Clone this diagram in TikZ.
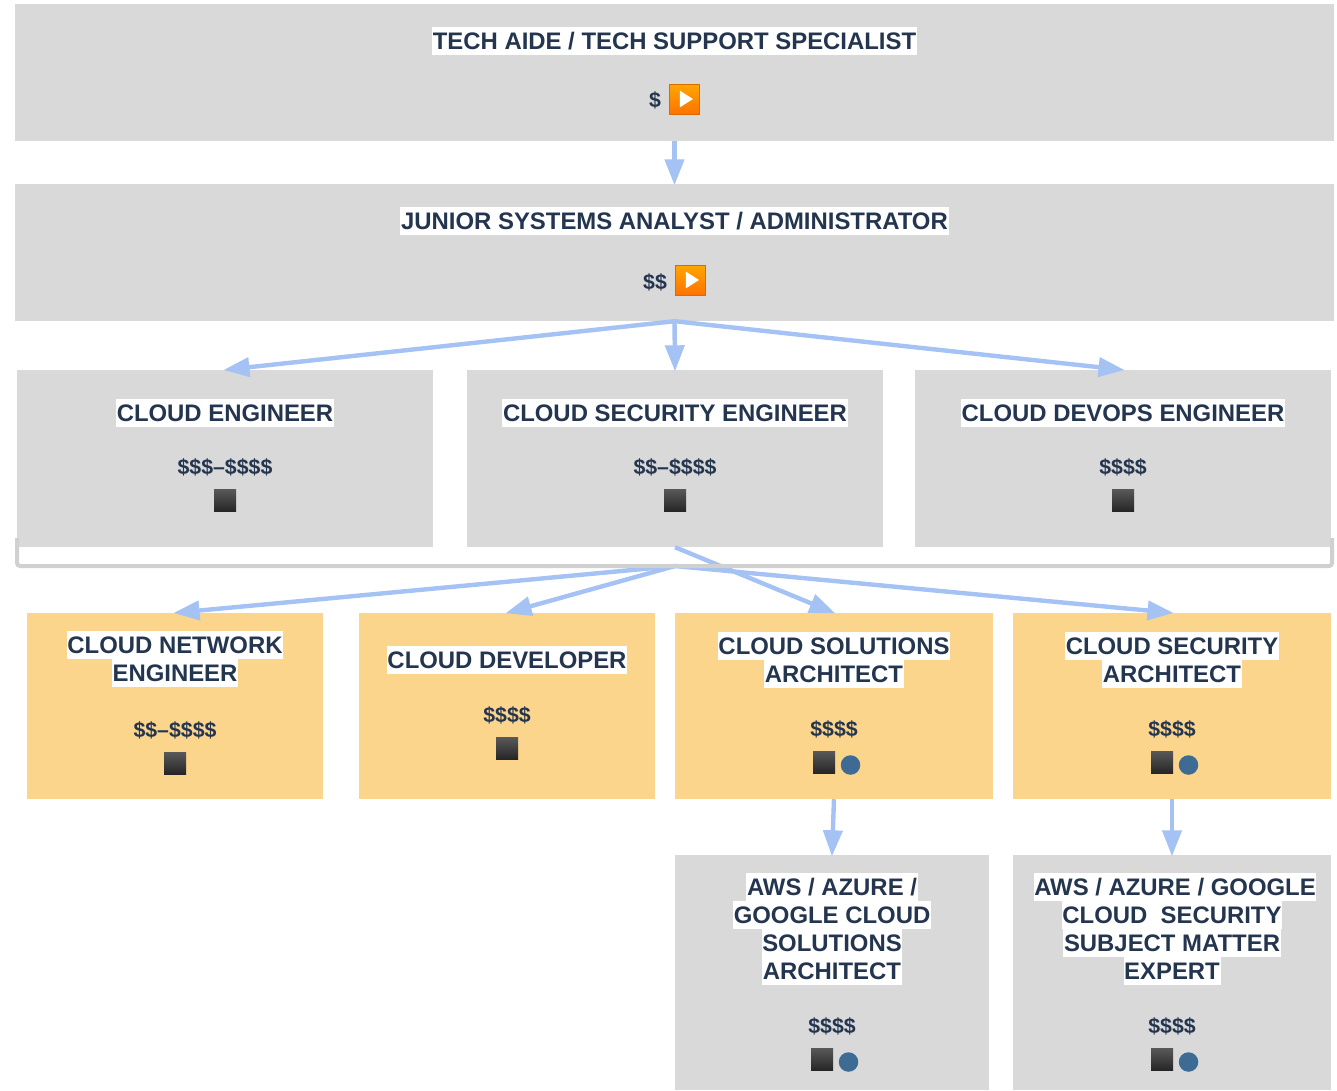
\documentclass[tikz,border=0pt]{standalone}
\usepackage{fontspec}
\setmainfont{Liberation Sans}
\usetikzlibrary{arrows.meta,shapes.geometric}

\definecolor{boxgray}{HTML}{D9D9D9}
\definecolor{boxorange}{HTML}{FBD58C}
\definecolor{arrowblue}{HTML}{A4C2F4}
\definecolor{textnavy}{HTML}{243550}
\definecolor{bracketgray}{HTML}{D0D0D0}
\definecolor{dotblue}{HTML}{3D6B94}

\tikzstyle{wide}=[
    rectangle,
    fill=boxgray,
    minimum width=1319pt,
    minimum height=137pt
]
\tikzstyle{role}=[
    rectangle,
    fill=boxgray,
    minimum width=416pt,
    minimum height=177pt
]
\tikzstyle{spec}=[
    rectangle,
    fill=boxorange,
    minimum height=186pt
]
\tikzstyle{expert}=[
    rectangle,
    fill=boxgray,
    minimum height=235pt
]
\tikzstyle{title}=[
    fill=white,
    text=textnavy,
    font=\fontsize{23.9}{28}\bfseries,
    inner xsep=0.7pt,
    inner ysep=0pt,
    text height=22.5pt,
    text depth=5.5pt
]
\tikzstyle{pay}=[
    text=textnavy,
    font=\fontsize{21.3}{26}\bfseries,
    inner sep=0pt
]
\tikzstyle{play}=[
    rectangle,
    minimum size=29.5pt,
    inner sep=0pt,
    draw=orange!85!black,
    line width=0.4pt,
    top color=orange!70!yellow,
    bottom color=orange!90!red
]
\tikzstyle{playmark}=[
    isosceles triangle,
    isosceles triangle apex angle=65,
    fill=white,
    minimum height=13pt,
    minimum width=16pt,
    inner sep=0pt
]
\tikzstyle{black box}=[
    rectangle,
    minimum size=22pt,
    inner sep=0pt,
    top color=black!65,
    bottom color=black!85
]
\tikzstyle{dot}=[
    circle,
    minimum size=19.5pt,
    inner sep=0pt,
    fill=dotblue
]
\tikzstyle{link}=[
    line width=4.4pt,
    draw=arrowblue,
    shorten >=-1.5pt,
    -{Triangle[length=26pt,width=19pt,fill=arrowblue]}
]

\begin{document}
\begin{tikzpicture}[x=1pt,y=-1pt]
	\useasboundingbox (0,0) rectangle (1337,1090);

	% TOP LEVELS
	\node (aide) [wide] at (674.5,72.5) {};
	\node (aide_t) [title] at (674.5,41) {TECH AIDE / TECH SUPPORT SPECIALIST};
	\node (aide_p) [pay] at (655,100.5) {\$};
	\node (aide_i) [play] at (684,99) {};
	\node (aide_m) [playmark] at (684.5,99) {};

	\node (junior) [wide] at (674.5,252.5) {};
	\node (junior_t) [title] at (674.5,221) {JUNIOR SYSTEMS ANALYST / ADMINISTRATOR};
	\node (junior_p) [pay] at (655,282) {\$\$};
	\node (junior_i) [play] at (690,280) {};
	\node (junior_m) [playmark] at (690.5,280) {};

	% CLOUD ROLES
	\node (eng) [role] at (225,458.5) {};
	\node (eng_t) [title] at (225,413) {CLOUD ENGINEER};
	\node (eng_p) [pay] at (225,467) {\$\$\$–\$\$\$\$};
	\node (eng_i) [black box] at (225,500) {};

	\node (sec) [role] at (675,458.5) {};
	\node (sec_t) [title] at (675,413) {CLOUD SECURITY ENGINEER};
	\node (sec_p) [pay] at (675,467) {\$\$–\$\$\$\$};
	\node (sec_i) [black box] at (675,500) {};

	\node (dev) [role] at (1123,458.5) {};
	\node (dev_t) [title] at (1123,413) {CLOUD DEVOPS ENGINEER};
	\node (dev_p) [pay] at (1123,467) {\$\$\$\$};
	\node (dev_i) [black box] at (1123,500) {};

	% SPECIALIST ROLES
	\node (net) [spec,minimum width=296pt] at (175,706) {};
	\node (net_a) [title] at (175,645) {CLOUD NETWORK};
	\node (net_b) [title] at (175,673) {ENGINEER};
	\node (net_p) [pay] at (175,730) {\$\$–\$\$\$\$};
	\node (net_i) [black box] at (175,763) {};

	\node (code) [spec,minimum width=296pt] at (507,706) {};
	\node (code_t) [title] at (507,660) {CLOUD DEVELOPER};
	\node (code_p) [pay] at (507,715) {\$\$\$\$};
	\node (code_i) [black box] at (507,748) {};

	\node (sol) [spec,minimum width=318pt] at (834,706) {};
	\node (sol_a) [title] at (834,646) {CLOUD SOLUTIONS};
	\node (sol_b) [title] at (834,674) {ARCHITECT};
	\node (sol_p) [pay] at (834,729) {\$\$\$\$};
	\node (sol_i) [black box] at (824,762) {};
	\node (sol_d) [dot] at (850.5,765) {};

	\node (arc) [spec,minimum width=318pt] at (1172,706) {};
	\node (arc_a) [title] at (1172,646) {CLOUD SECURITY};
	\node (arc_b) [title] at (1172,674) {ARCHITECT};
	\node (arc_p) [pay] at (1172,729) {\$\$\$\$};
	\node (arc_i) [black box] at (1162,762) {};
	\node (arc_d) [dot] at (1188.5,765) {};

	% EXPERT ROLES
	\node (aws) [expert,minimum width=314pt] at (832,972.5) {};
	\node (aws_a) [title] at (832,887) {AWS / AZURE /};
	\node (aws_b) [title] at (832,915) {GOOGLE CLOUD};
	\node (aws_c) [title] at (832,943) {SOLUTIONS};
	\node (aws_d) [title] at (832,971) {ARCHITECT};
	\node (aws_p) [pay] at (832,1026) {\$\$\$\$};
	\node (aws_i) [black box] at (822,1059) {};
	\node (aws_e) [dot] at (848.5,1062) {};

	\node (sme) [expert,minimum width=318pt] at (1172,972.5) {};
	\node (sme_a) [title] at (1175,887) {AWS / AZURE / GOOGLE};
	\node (sme_b) [title] at (1172,915) {CLOUD\ \ SECURITY};
	\node (sme_c) [title] at (1172,943) {SUBJECT MATTER};
	\node (sme_d) [title] at (1172,971) {EXPERT};
	\node (sme_p) [pay] at (1172,1026) {\$\$\$\$};
	\node (sme_i) [black box] at (1162,1059) {};
	\node (sme_e) [dot] at (1188.5,1062) {};

	\coordinate (fork) at (675,566);
	\coordinate (brace_l) at (17,538);
	\coordinate (brace_r) at (1332,538);

	\path
	% Connections down the top levels
	(aide) edge[link] (junior)

	% Connections from junior to cloud roles
	(junior.south) edge[link] (eng.north)
	(junior.south) edge[link] (sec.north)
	(junior.south) edge[link] (dev.north)

	% Connections from the bracket to specialists
	(fork) edge[link] (net.north)
	(fork) edge[link] (code.north)
	(fork) edge[link] (arc.north)
	(sec.south) edge[link] (sol.north)

	% Connections from specialists to experts
	(sol.south) edge[link] (aws.north)
	(arc.south) edge[link] (sme.north)
	;

	\draw[line width=4pt,bracketgray,rounded corners=3pt] (brace_l) |- (fork) -| (brace_r);
\end{tikzpicture}
\end{document}
